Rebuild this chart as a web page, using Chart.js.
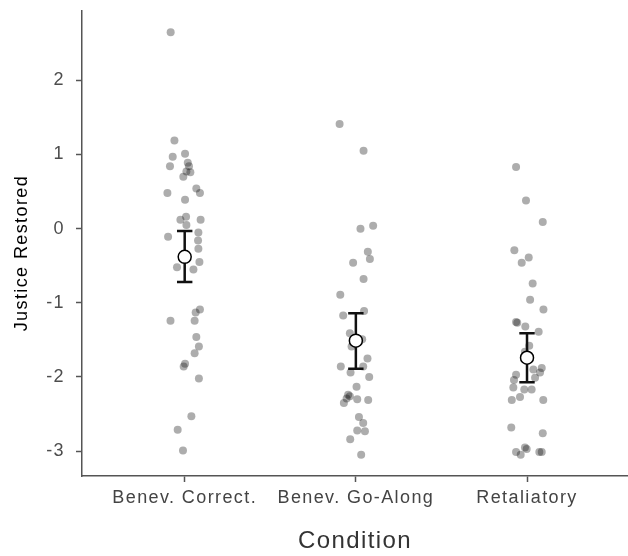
<!DOCTYPE html>
<html>
<head>
<meta charset="utf-8">
<script src="https://cdn.jsdelivr.net/npm/chart.js@4.4.1/dist/chart.umd.min.js"></script>
<style>
  html, body { margin: 0; padding: 0; background: #fff; overflow: hidden; }
</style>
</head>
<body>
<canvas id="chart" width="628" height="556"></canvas>
<script>
// categories and tick labels
const categories = ["Benev. Correct.", "Benev. Go-Along", "Retaliatory"];
const yTicks = [-3, -2, -1, 0, 1, 2];

// raw scores per condition, with the horizontal jitter
const correctValues = [2.65, 1.19, 0.97, 1.01, 0.84, 0.89, 0.84, 0.77, 0.76, 0.70, 0.48, 0.54, 0.48, 0.39,
  0.16, 0.12, 0.12, 0.05, -0.11, -0.05, -0.16, -0.27, -0.45, -0.52, -0.55, -1.09, -1.13, -1.24, -1.24,
  -1.46, -1.59, -1.68, -1.82, -1.86, -2.02, -2.53, -2.71, -2.99];
const correctJitter = [-0.082, -0.060, -0.070, 0.002, -0.086, 0.018, 0.025, 0.010, 0.033, -0.008, -0.101, 0.068, 0.089, 0.002,
  0.008, -0.025, 0.093, 0.010, -0.097, 0.080, 0.078, 0.080, 0.086, -0.045, 0.051, 0.089, 0.064, -0.083, 0.058,
  0.068, 0.083, 0.058, 0.002, -0.006, 0.083, 0.039, -0.041, -0.010];

const goAlongValues = [1.41, 1.05, 0.00, 0.04, -0.31, -0.41, -0.46, -0.68, -0.89, -1.17, -1.11, -1.41, -1.49,
  -1.59, -1.75, -1.86, -1.86, -1.94, -2.00, -2.13, -2.24, -2.26, -2.29, -2.30, -2.31, -2.35, -2.54, -2.62,
  -2.72, -2.73, -2.84, -3.05];
const goAlongJitter = [-0.095, 0.045, 0.027, 0.101, 0.070, 0.082, -0.016, 0.045, -0.091, -0.074, 0.048, -0.035, 0.037,
  -0.025, 0.068, -0.088, 0.043, -0.031, 0.078, 0.004, -0.045, -0.035, -0.054, 0.008, 0.072, -0.070, 0.018, 0.043,
  0.008, 0.053, -0.033, 0.031];

const retaliatoryValues = [0.83, 0.38, 0.09, -0.29, -0.39, -0.46, -0.74, -0.96, -1.09, -1.26, -1.27, -1.32, -1.39,
  -1.58, -1.66, -1.88, -1.90, -1.94, -1.97, -2.01, -2.04, -2.14, -2.17, -2.17, -2.27, -2.31, -2.31, -2.68,
  -2.76, -2.95, -2.97, -3.01, -3.05, -3.01, -3.01];
const retaliatoryJitter = [-0.064, -0.006, 0.092, -0.074, 0.010, -0.031, 0.033, 0.018, 0.096, -0.064, -0.057, -0.010, 0.068,
  0.013, -0.012, 0.086, 0.037, 0.076, -0.064, 0.047, -0.076, -0.080, -0.016, 0.027, -0.041, -0.089, 0.095, -0.092,
  0.092, -0.012, -0.002, -0.064, -0.037, 0.072, 0.086];

// group means with their error bars
const means = [-0.38, -1.51, -1.74];
const lower = [-0.72, -1.89, -2.07];
const upper = [-0.03, -1.14, -1.41];

const groups = [
  [correctValues, correctJitter],
  [goAlongValues, goAlongJitter],
  [retaliatoryValues, retaliatoryJitter]
];
const rawPoints = [];
groups.forEach(([vals, jit], g) => {
  vals.forEach((v, i) => rawPoints.push({ x: g + 1 + jit[i], y: v }));
});

const capHalf = 0.045;
const barPoints = [];
means.forEach((m, i) => {
  const x = i + 1;
  barPoints.push({ x: x, y: lower[i] }, { x: x, y: upper[i] }, { x: x, y: null });
  barPoints.push({ x: x - capHalf, y: upper[i] }, { x: x + capHalf, y: upper[i] }, { x: x, y: null });
  barPoints.push({ x: x - capHalf, y: lower[i] }, { x: x + capHalf, y: lower[i] }, { x: x, y: null });
});

const letterSpacing = {
  id: 'letterSpacing',
  beforeDraw(chart) { chart.ctx.letterSpacing = '1.4px'; }
};

const axisColor = '#555555';
const fontFamily = 'Liberation Sans, Arial, sans-serif';

new Chart(document.getElementById('chart'), {
  type: 'scatter',
  data: {
    datasets: [
      {
        data: means.map((m, i) => ({ x: i + 1, y: m })),
        pointRadius: 6.5,
        backgroundColor: '#ffffff',
        borderColor: '#000000',
        borderWidth: 1.5,
        order: 0
      },
      {
        type: 'line',
        data: barPoints,
        borderColor: '#111111',
        borderWidth: 2.5,
        pointRadius: 0,
        spanGaps: false,
        fill: false,
        order: 1
      },
      {
        data: rawPoints,
        pointRadius: 4,
        backgroundColor: 'rgba(0,0,0,0.32)',
        borderWidth: 0,
        order: 2
      }
    ]
  },
  options: {
    responsive: false,
    animation: false,
    events: [],
    layout: { autoPadding: false, padding: { top: 11, left: 0, right: 0, bottom: 0 } },
    plugins: { legend: { display: false }, tooltip: { enabled: false } },
    scales: {
      x: {
        type: 'linear',
        min: 0.4,
        max: 3.59,
        afterBuildTicks: (s) => { s.ticks = categories.map((c, i) => ({ value: i + 1 })); },
        afterFit: (s) => { s.height = 80; s.paddingLeft = 0; s.paddingRight = 0; },
        ticks: {
          callback: (v) => categories[v - 1],
          color: '#444444',
          font: { family: fontFamily, size: 18 },
          padding: 5,
          maxRotation: 0,
          autoSkip: false
        },
        grid: { drawOnChartArea: false, color: axisColor, tickLength: 6, tickWidth: 1.5 },
        border: { color: axisColor, width: 1.5 },
        title: {
          display: true,
          text: 'Condition',
          color: '#333333',
          font: { family: fontFamily, size: 24 },
          padding: { top: 0, bottom: 0 }
        }
      },
      y: {
        min: -3.335,
        max: 2.935,
        afterBuildTicks: (s) => { s.ticks = yTicks.map(v => ({ value: v })); },
        afterFit: (s) => { s.width = 82; s.paddingTop = 0; s.paddingBottom = 0; },
        ticks: {
          callback: (v) => String(v),
          color: '#4d4d4d',
          font: { family: fontFamily, size: 18 },
          padding: 11
        },
        grid: { drawOnChartArea: false, color: axisColor, tickLength: 6, tickWidth: 1.5 },
        border: { color: axisColor, width: 1.5 },
        title: {
          display: true,
          text: 'Justice Restored   ',
          color: '#000000',
          font: { family: fontFamily, size: 18 },
          padding: { top: 11, bottom: 0 }
        }
      }
    }
  },
  plugins: [letterSpacing]
});
</script>
</body>
</html>
